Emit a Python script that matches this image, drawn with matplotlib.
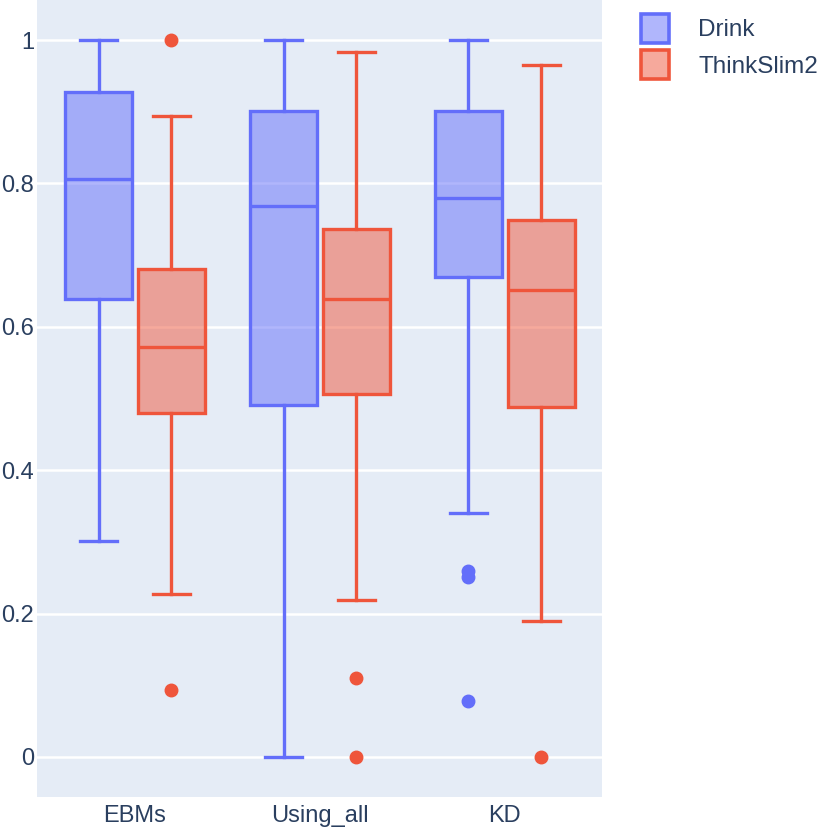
import matplotlib
matplotlib.use("Agg")
import matplotlib.pyplot as plt
from matplotlib.patches import Patch

plt.rcParams["font.family"] = ["Liberation Sans", "DejaVu Sans"]

categories = ["EBMs", "Using_all", "KD"]

# box statistics, one entry per category
drink_whislo = [0.301, 0.0, 0.340]
drink_q1 = [0.639, 0.491, 0.669]
drink_med = [0.806, 0.768, 0.780]
drink_q3 = [0.927, 0.901, 0.901]
drink_whishi = [1.0, 1.0, 1.0]
drink_fliers = [[], [], [0.259, 0.251, 0.078]]

slim_whislo = [0.227, 0.219, 0.190]
slim_q1 = [0.480, 0.506, 0.488]
slim_med = [0.572, 0.639, 0.651]
slim_q3 = [0.681, 0.736, 0.749]
slim_whishi = [0.894, 0.983, 0.965]
slim_fliers = [[1.0, 0.093], [0.110, 0.0], [0.0]]

series = [
    ("Drink", "#636EFA", -0.197,
     drink_whislo, drink_q1, drink_med, drink_q3, drink_whishi, drink_fliers),
    ("ThinkSlim2", "#EF553B", 0.197,
     slim_whislo, slim_q1, slim_med, slim_q3, slim_whishi, slim_fliers),
]

TXT = "#2a3f5f"
LW = 2.4
fig = plt.figure(figsize=(8.3, 8.3), dpi=100)
ax = fig.add_axes([37 / 830, 33 / 830, (602 - 37) / 830, 797 / 830])
ax.set_facecolor("#E5ECF6")

handles = []
for name, col, off, lo, q1, med, q3, hi, fl in series:
    stats = [dict(whislo=lo[i], q1=q1[i], med=med[i], q3=q3[i], whishi=hi[i],
                  fliers=fl[i]) for i in range(len(categories))]
    pos = [i + off for i in range(len(categories))]
    ax.bxp(stats, positions=pos, widths=0.36, patch_artist=True,
           showfliers=True, capwidths=0.2,
           boxprops=dict(facecolor=col + "80", edgecolor=col, linewidth=LW),
           medianprops=dict(color=col, linewidth=LW),
           whiskerprops=dict(color=col, linewidth=LW),
           capprops=dict(color=col, linewidth=LW),
           flierprops=dict(marker="o", markerfacecolor=col, markeredgecolor=col,
                           markersize=9))
    handles.append(Patch(facecolor=col + "80", edgecolor=col, linewidth=2.6,
                         label=name))

ax.set_xlim(-0.53, 2.525)
ax.set_ylim(-0.056, 1.056)
ax.set_xticks(range(len(categories)))
ax.set_xticklabels(categories)
ax.set_yticks([0, 0.2, 0.4, 0.6, 0.8, 1.0])
ax.set_yticklabels(["0", "0.2", "0.4", "0.6", "0.8", "1"])
ax.grid(axis="y", color="white", linewidth=1.8)
ax.set_axisbelow(True)
for s in ax.spines.values():
    s.set_visible(False)
ax.tick_params(axis="x", length=0, labelsize=17, colors=TXT, pad=6)
ax.tick_params(axis="y", length=0, labelsize=17, colors=TXT, pad=2)

leg = fig.legend(handles=handles, loc="upper left",
                 bbox_to_anchor=(641 / 830, 1 - 14 / 830),
                 frameon=False, fontsize=17.5, borderpad=0, borderaxespad=0,
                 handlelength=1.15, handleheight=1.45,
                 handletextpad=1.2, labelspacing=0.3)
for t in leg.get_texts():
    t.set_color(TXT)

fig.savefig("out.png", dpi=100)
